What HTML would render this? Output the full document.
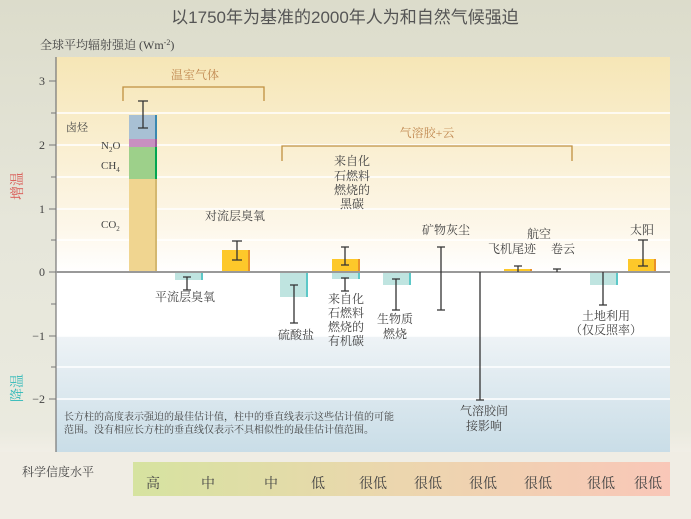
<!DOCTYPE html>
<html><head><meta charset="utf-8"><style>
body{margin:0;width:691px;height:514px;overflow:hidden;background:#f0ede4}
text{font-family:"Liberation Serif","Noto Serif CJK SC",serif;fill:#444}
</style></head><body>
<svg width="691" height="514" xmlns="http://www.w3.org/2000/svg">
<defs>
<linearGradient id="bg" x1="0" y1="0" x2="0" y2="1">
<stop offset="0" stop-color="#dcdccb"/><stop offset="0.5" stop-color="#e6e6da"/><stop offset="0.95" stop-color="#eaeadf"/><stop offset="1" stop-color="#f1eee6"/></linearGradient>
<linearGradient id="warm" x1="0" y1="0" x2="0" y2="1">
<stop offset="0" stop-color="#f6e6b6"/><stop offset="0.8" stop-color="#fdf7ea"/><stop offset="1" stop-color="#ffffff"/></linearGradient>
<linearGradient id="cool" x1="0" y1="0" x2="0" y2="1">
<stop offset="0" stop-color="#ffffff"/><stop offset="0.35" stop-color="#ffffff"/><stop offset="0.36" stop-color="#eef3f6"/><stop offset="1" stop-color="#c9dde7"/></linearGradient>
<linearGradient id="conf" x1="0" y1="0" x2="1" y2="0">
<stop offset="0" stop-color="#d6e3a0"/><stop offset="0.5" stop-color="#ecd6ae"/><stop offset="1" stop-color="#f9c7b8"/></linearGradient>
</defs>
<rect width="691" height="452" fill="url(#bg)"/>
<rect x="56" y="57" width="614" height="215" fill="url(#warm)"/>
<rect x="56" y="272" width="614" height="180" fill="url(#cool)"/>
<g stroke="#fff" stroke-width="1.5">
<line x1="56" x2="670" y1="113" y2="113"/><line x1="56" x2="670" y1="145" y2="145"/><line x1="56" x2="670" y1="177" y2="177"/><line x1="56" x2="670" y1="209" y2="209"/><line x1="56" x2="670" y1="240" y2="240"/>
<line x1="56" x2="670" y1="336" y2="336"/><line x1="56" x2="670" y1="367" y2="367"/><line x1="56" x2="670" y1="399" y2="399"/>
</g>
<text x="345" y="23" text-anchor="middle" font-size="17" style="fill:#555;font-family:'Liberation Sans','Noto Sans CJK SC',sans-serif">以1750年为基准的2000年人为和自然气候强迫</text>
<text x="40" y="49" font-size="12">全球平均辐射强迫 (Wm<tspan font-size="8" dy="-4">-2</tspan><tspan dy="4">)</tspan></text>
<text transform="translate(22,200) rotate(-90)" font-size="14" style="fill:#d9534f">增温</text>
<text transform="translate(22,402) rotate(-90)" font-size="14" style="fill:#2bb8b8">降温</text>
<!-- axes -->
<line x1="56" y1="57" x2="56" y2="452" stroke="#777" stroke-width="1.2"/>
<g stroke="#777" stroke-width="1"><line x1="49" x2="56" y1="81" y2="81"/><line x1="51" x2="56" y1="113" y2="113"/><line x1="49" x2="56" y1="145" y2="145"/><line x1="51" x2="56" y1="177" y2="177"/><line x1="49" x2="56" y1="209" y2="209"/><line x1="51" x2="56" y1="240" y2="240"/><line x1="49" x2="56" y1="272" y2="272"/><line x1="51" x2="56" y1="304" y2="304"/><line x1="49" x2="56" y1="336" y2="336"/><line x1="51" x2="56" y1="367" y2="367"/><line x1="49" x2="56" y1="399" y2="399"/></g>
<g font-size="12" text-anchor="end"><text x="45" y="85">3</text><text x="45" y="149">2</text><text x="45" y="213">1</text><text x="45" y="276">0</text><text x="45" y="340">−1</text><text x="45" y="403">−2</text></g>
<!-- bars -->
<rect x="129" y="179" width="26" height="93" fill="#f0d590"/><rect x="155" y="179" width="2" height="93" fill="#d4b870"/>
<rect x="129" y="147" width="26" height="32" fill="#9dd08a"/><rect x="155" y="147" width="2" height="32" fill="#00a651"/>
<rect x="129" y="139" width="26" height="8" fill="#c890c0"/><rect x="155" y="139" width="2" height="8" fill="#9a5c9a"/>
<rect x="129" y="115" width="26" height="24" fill="#a8c0d4"/><rect x="155" y="115" width="2" height="24" fill="#3a88b0"/>
<g fill="#bfe4e0"><rect x="175" y="272" width="26" height="8"/><rect x="280" y="272" width="26" height="25"/><rect x="332" y="272" width="26" height="7"/><rect x="383" y="272" width="26" height="13"/><rect x="590" y="272" width="26" height="13"/></g>
<g fill="#5cc8c8"><rect x="201" y="272" width="2" height="8"/><rect x="306" y="272" width="2" height="25"/><rect x="358" y="272" width="2" height="7"/><rect x="409" y="272" width="2" height="13"/><rect x="616" y="272" width="2" height="13"/></g>
<g fill="#fdc82a"><rect x="222" y="250" width="26" height="22"/><rect x="332" y="259" width="26" height="13"/><rect x="504" y="269" width="26" height="3"/><rect x="628" y="259" width="26" height="13"/></g>
<g fill="#e8902a"><rect x="248" y="250" width="2" height="22"/><rect x="358" y="259" width="2" height="13"/><rect x="530" y="269" width="2" height="3"/><rect x="654" y="259" width="2" height="13"/></g>
<line x1="56" y1="272" x2="670" y2="272" stroke="#999" stroke-width="2"/>
<!-- error bars -->
<g stroke="#333" stroke-width="1.3">
<path d="M143 101V128M138 101H148M138 128H148"/>
<path d="M187 277V290M183 277H191M183 290H191"/>
<path d="M237 241V260M232 241H242M232 260H242"/>
<path d="M294 285V323M290 285H298M290 323H298"/>
<path d="M345 247V265M341 247H349M341 265H349"/>
<path d="M345 278V291M341 278H349M341 291H349"/>
<path d="M396 279V310M392 279H400M392 310H400"/>
<path d="M441 247V310M437 247H445M437 310H445"/>
<path d="M480 272V400M476 400H484"/>
<path d="M518 266V272M514 266H522"/>
<path d="M557 269V272M553 269H561"/>
<path d="M603 272V305M599 305H607"/>
<path d="M643 240V266M638 240H648M638 266H648"/>
</g>
<!-- brackets -->
<path d="M123 101V87H264V101" fill="none" stroke="#c09040" stroke-width="1.3"/>
<text x="195" y="79" text-anchor="middle" font-size="12" style="fill:#c08850">温室气体</text>
<path d="M282 161V146H572V161" fill="none" stroke="#c09040" stroke-width="1.3"/>
<text x="427" y="137" text-anchor="middle" font-size="12" style="fill:#c08850">气溶胶+云</text>
<!-- labels -->
<g font-size="11">
<text x="66" y="131">卤烃</text>
<text x="101" y="149">N<tspan font-size="7" dy="3">2</tspan><tspan dy="-3">O</tspan></text>
<text x="101" y="169">CH<tspan font-size="7" dy="3">4</tspan></text>
<text x="101" y="228">CO<tspan font-size="7" dy="3">2</tspan></text>
</g>
<g font-size="12" text-anchor="middle">
<text x="235" y="220">对流层臭氧</text>
<text x="352" y="165">来自化</text><text x="352" y="180">石燃料</text><text x="352" y="194">燃烧的</text><text x="352" y="208">黑碳</text>
<text x="446" y="234">矿物灰尘</text>
<text x="539" y="238">航空</text>
<text x="512" y="253">飞机尾迹</text><text x="563" y="253">卷云</text>
<text x="642" y="234">太阳</text>
<text x="185" y="301">平流层臭氧</text>
<text x="296" y="339">硫酸盐</text>
<text x="346" y="303">来自化</text><text x="346" y="317">石燃料</text><text x="346" y="331">燃烧的</text><text x="346" y="345">有机碳</text>
<text x="395" y="323">生物质</text><text x="395" y="338">燃烧</text>
<text x="606" y="320">土地利用</text><text x="606" y="334">（仅反照率）</text>
<text x="484" y="415">气溶胶间</text><text x="484" y="430">接影响</text>
</g>
<text x="64" y="420" font-size="10">长方柱的高度表示强迫的最佳估计值，柱中的垂直线表示这些估计值的可能</text>
<text x="64" y="433" font-size="10">范围。没有相应长方柱的垂直线仅表示不具相似性的最佳估计值范围。</text>
<!-- confidence -->
<text x="22" y="476" font-size="12">科学信度水平</text>
<rect x="133" y="462" width="537" height="34" fill="url(#conf)"/>
<g font-size="14" text-anchor="middle">
<text x="153" y="488">高</text><text x="208" y="488">中</text><text x="271" y="488">中</text><text x="318" y="488">低</text><text x="373" y="488">很低</text><text x="428" y="488">很低</text><text x="483" y="488">很低</text><text x="538" y="488">很低</text><text x="601" y="488">很低</text><text x="648" y="488">很低</text>
</g>
</svg>
</body></html>
